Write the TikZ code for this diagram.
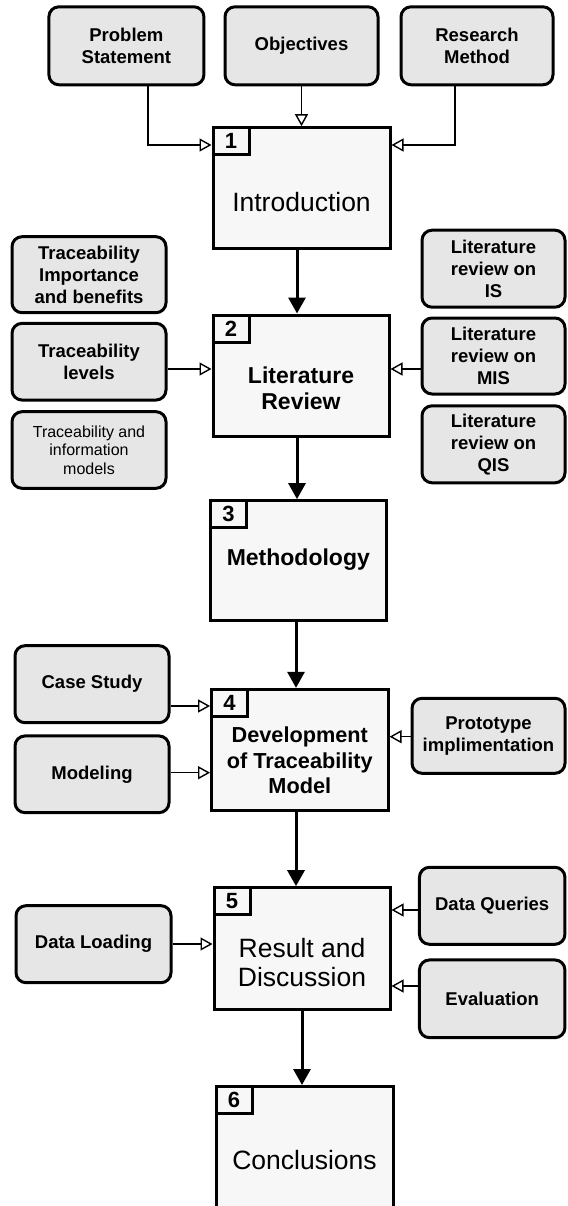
\documentclass[tikz,border=0pt]{standalone}
\usepackage{fontspec}
\setmainfont{Liberation Sans}
\usetikzlibrary{arrows.meta}
\definecolor{mainfill}{HTML}{F7F7F7}
\definecolor{sidefill}{HTML}{E6E6E6}
\begin{document}
\begin{tikzpicture}[x=1pt,y=-1pt,
 mainbox/.style={draw=black, line width=3pt, fill=mainfill, inner sep=0pt},
 numbox/.style={draw=black, line width=3pt, fill=mainfill, inner sep=0pt, minimum width=36pt, minimum height=27pt, anchor=north west, font=\bfseries\fontsize{22}{22}\selectfont},
 sidebox/.style={draw=black, line width=3pt, fill=sidefill, rounded corners=10pt, inner sep=0pt, align=center, font=\bfseries\fontsize{18.5}{22}\selectfont},
 maintext/.style={align=center, inner sep=0pt, font=\fontsize{26.5}{28.4}\selectfont},
 openarr/.style={line width=1.4pt, -{Triangle[open,length=12pt,width=13pt,line width=1.4pt]}},
 mainarr/.style={line width=3pt, -{Triangle[length=16pt,width=17pt]}},
]
\useasboundingbox (0,0) rectangle (567,1206);
\clip (0,0) rectangle (567,1206);

% top inputs
\node[sidebox, minimum width=155pt, minimum height=78pt] (ps) at (126.4,45.8) {Problem\\Statement};
\node[sidebox, minimum width=153pt, minimum height=78pt] (ob) at (301.5,45.8) {Objectives};
\node[sidebox, minimum width=152pt, minimum height=78pt] (rm) at (477,45.8) {Research\\Method};

% box 1
\node[mainbox, minimum width=177pt, minimum height=120.6pt] (b1) at (301.5,188) {};
\node[numbox] (n1) at (b1.north west) {1};
\node[maintext] (t1) at (301.5,201.7) {Introduction};

% literature side boxes
\node[sidebox, minimum width=154pt, minimum height=76pt] (ti) at (89,274.7) {Traceability\\Importance\\and benefits};
\node[sidebox, minimum width=154pt, minimum height=76.7pt] (tl) at (89,361.7) {Traceability\\levels};
\node[sidebox, minimum width=154pt, minimum height=76.6pt, font=\fontsize{16}{18.7}\selectfont] (tm) at (89,450) {Traceability and\\information\\models};
\node[sidebox, minimum width=143pt, minimum height=77pt] (lis) at (493.5,268.7) {Literature\\review on\\IS};
\node[sidebox, minimum width=143pt, minimum height=76pt] (lmis) at (493.5,356) {Literature\\review on\\MIS};
\node[sidebox, minimum width=143pt, minimum height=77pt] (lqis) at (493.5,444.3) {Literature\\review on\\QIS};

% box 2
\node[mainbox, minimum width=176pt, minimum height=121pt] (b2) at (301,375.5) {};
\node[numbox] (n2) at (b2.north west) {2};
\node[maintext, font=\bfseries\fontsize{23}{26.7}\selectfont] (t2) at (301,388.3) {Literature\\Review};

% box 3
\node[mainbox, minimum width=175.5pt, minimum height=120.3pt] (b3) at (298.3,560.8) {};
\node[numbox] (n3) at (b3.north west) {3};
\node[maintext, font=\bfseries\fontsize{23}{26.7}\selectfont] (t3) at (298.3,560) {Methodology};

% box 4 and inputs
\node[sidebox, minimum width=154pt, minimum height=77pt] (cs) at (92,684.2) {Case Study};
\node[sidebox, minimum width=154pt, minimum height=76.7pt] (mo) at (92,774.3) {Modeling};
\node[sidebox, minimum width=153pt, minimum height=75pt] (pi) at (488.5,735.8) {Prototype\\implimentation};
\node[mainbox, minimum width=176.5pt, minimum height=120.7pt] (b4) at (299.8,749.7) {};
\node[numbox] (n4) at (b4.north west) {4};
\node[maintext, font=\bfseries\fontsize{21.7}{25.5}\selectfont] (t4) at (299.8,760.5) {Development\\of Traceability\\Model};

% box 5 and inputs
\node[sidebox, minimum width=155pt, minimum height=77pt] (dl) at (93.5,944.2) {Data Loading};
\node[sidebox, minimum width=145.5pt, minimum height=77pt] (dq) at (492.2,905.8) {Data Queries};
\node[sidebox, minimum width=145.5pt, minimum height=77.7pt] (ev) at (492.2,998.8) {Evaluation};
\node[mainbox, minimum width=176pt, minimum height=121.6pt] (b5) at (302,948.5) {};
\node[numbox] (n5) at (b5.north west) {5};
\node[maintext] (t5) at (302,962.5) {Result and\\Discussion};

% box 6
\node[mainbox, minimum width=177pt, minimum height=127pt] (b6) at (304.5,1150) {};
\node[numbox] (n6) at (b6.north west) {6};
\node[maintext] (t6) at (304.5,1160) {Conclusions};

% connectors into box 1
\draw[openarr] (ps.south -| 148,0) |- (b1.west |- 0,145);
\draw[openarr] (ob.south) -- (b1.north);
\draw[openarr] (rm.south -| 455,0) |- (b1.east |- 0,145);

% main flow
\draw[mainarr] (b1.south -| 297,0) -- (b2.north -| 297,0);
\draw[mainarr] (b2.south -| 297,0) -- (b3.north -| 297,0);
\draw[mainarr] (b3.south -| 296,0) -- (b4.north -| 296,0);
\draw[mainarr] (b4.south -| 296,0) -- (b5.north -| 296,0);
\draw[mainarr] (b5.south -| 302,0) -- (b6.north -| 302,0);

% inputs into box 2
\draw[openarr] (tl.east |- 0,369) -- (b2.west |- 0,369);
\draw[openarr] (lmis.west |- 0,369) -- (b2.east |- 0,369);

% inputs into box 4
\draw[openarr] (cs.east |- 0,706) -- (b4.west |- 0,706);
\draw[openarr] (mo.east |- 0,772.7) -- (b4.west |- 0,772.7);
\draw[openarr] (pi.west |- 0,736.7) -- (b4.east |- 0,736.7);

% inputs into box 5
\draw[openarr] (dl.east |- 0,944) -- (b5.west |- 0,944);
\draw[openarr] (dq.west |- 0,910) -- (b5.east |- 0,910);
\draw[openarr] (ev.west |- 0,986) -- (b5.east |- 0,986);
\end{tikzpicture}
\end{document}
